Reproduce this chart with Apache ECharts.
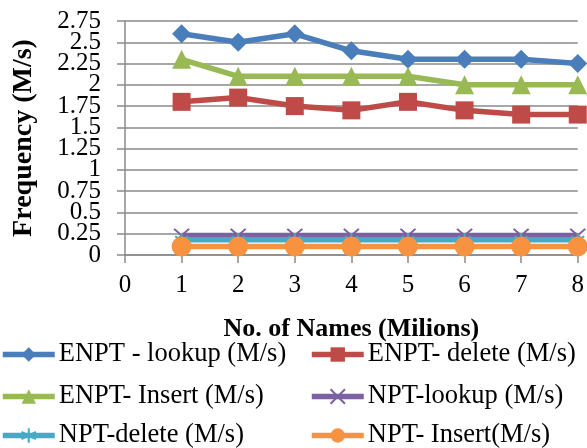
<!DOCTYPE html>
<html>
<head>
<meta charset="utf-8">
<script src="https://cdn.jsdelivr.net/npm/echarts@6/dist/echarts.min.js"></script>
<style>
  html, body { margin: 0; padding: 0; background: #fff; }
  #chart { width: 587px; height: 448px; }
</style>
</head>
<body>
<div id="chart"></div>
<script>
// Number of names (millions) on the horizontal axis
const names = [1, 2, 3, 4, 5, 6, 7, 8];

// Throughput series (M/s)
const enptLookup = [2.6, 2.5, 2.6, 2.4, 2.3, 2.3, 2.3, 2.25];
const enptDelete = [1.8, 1.85, 1.75, 1.7, 1.8, 1.7, 1.65, 1.65];
const enptInsert = [2.3, 2.1, 2.1, 2.1, 2.1, 2.0, 2.0, 2.0];
const nptLookup = [0.23, 0.23, 0.23, 0.23, 0.23, 0.23, 0.23, 0.23];
const nptDelete = [0.18, 0.18, 0.18, 0.18, 0.18, 0.18, 0.18, 0.18];
const nptInsert = [0.1, 0.1, 0.1, 0.1, 0.1, 0.1, 0.1, 0.1];

const seriesNames = [
  'ENPT - lookup (M/s)', 'ENPT- delete (M/s)', 'ENPT- Insert (M/s)',
  'NPT-lookup (M/s)', 'NPT-delete (M/s)', 'NPT- Insert(M/s)'
];
const seriesValues = [enptLookup, enptDelete, enptInsert, nptLookup, nptDelete, nptInsert];
const seriesColors = ['#4A7EBB', '#BE4B48', '#98B954', '#7D60A0', '#46AAC5', '#F69240'];

// Frequency axis range and step
const yMin = 0;
const yMax = 2.75;
const yStep = 0.25;

const crossPath = 'path://M0,0L10,10M10,0L0,10';
const starPath = 'path://M5,0L5,10M0,2.5L10,7.5M0,7.5L10,2.5';
const symbols = ['diamond', 'rect', 'triangle', crossPath, starPath, 'circle'];
const symbolSizes = [19, 18, 19, [15, 13], [13, 13], 20];

const FONT = '"Liberation Serif", "Times New Roman", serif';
const GRID = '#8A8A8A';
const fmt = v => String(+v.toFixed(2));

const series = seriesNames.map((name, i) => {
  const stroked = i === 3 || i === 4;
  return {
    name: name,
    type: 'line',
    yAxisIndex: 0,
    data: names.map((x, j) => [x, seriesValues[i][j]]),
    symbol: symbols[i],
    symbolSize: symbolSizes[i],
    showAllSymbol: true,
    clip: false,
    lineStyle: { width: 5.5, color: seriesColors[i] },
    itemStyle: stroked
      ? { color: seriesColors[i], borderColor: seriesColors[i], borderWidth: 2 }
      : { color: seriesColors[i], borderWidth: 0 },
    emphasis: { disabled: true },
    z: 2 + i
  };
});

// Two-column legend, one component per entry
const legendCols = [0, 309];
const legendRows = [341, 383, 422];
const legends = seriesNames.map((name, i) => {
  const stroked = i === 3 || i === 4;
  return {
    data: [name],
    left: legendCols[i % 2],
    top: legendRows[Math.floor(i / 2)],
    itemWidth: 52,
    itemHeight: 18,
    padding: 0,
    selectedMode: false,
    lineStyle: { width: 5.5, color: seriesColors[i] },
    itemStyle: stroked
      ? { color: seriesColors[i], borderColor: seriesColors[i], borderWidth: 2 }
      : { color: seriesColors[i], borderWidth: 0 },
    textStyle: { fontFamily: FONT, fontSize: 26.5, color: '#000', padding: [0, 0, 0, -1] }
  };
});

const yLabelStyle = { margin: 24, fontFamily: FONT, fontSize: 25, color: '#000', hideOverlap: false };

const chart = echarts.init(document.getElementById('chart'), null, { renderer: 'canvas' });
chart.setOption({
  animation: false,
  backgroundColor: '#fff',
  grid: { left: 125, right: 8, top: 21, bottom: 193, containLabel: false },
  legend: legends,
  xAxis: {
    type: 'value',
    min: 0, max: 8, interval: 1,
    name: 'No. of Names (Milions)',
    nameLocation: 'middle',
    nameGap: 61,
    nameTextStyle: { fontFamily: FONT, fontSize: 26, fontWeight: 'bold', color: '#000' },
    axisLine: { show: true, lineStyle: { color: GRID, width: 1.5 } },
    axisTick: { show: true, length: 8, lineStyle: { color: GRID, width: 1.5 } },
    axisLabel: { margin: 18, fontFamily: FONT, fontSize: 25, color: '#000' },
    splitLine: { show: false }
  },
  yAxis: [
    {
      // main frequency axis: grid lines, ticks and the inner tick labels
      type: 'value',
      position: 'left',
      offset: 0,
      min: yMin, max: yMax, interval: yStep,
      name: 'Frequency (M/s)',
      nameLocation: 'middle',
      nameGap: 87,
      nameRotate: 90,
      nameTextStyle: { fontFamily: FONT, fontSize: 28, fontWeight: 'bold', color: '#000' },
      axisLine: { show: true, lineStyle: { color: GRID, width: 1.5 } },
      axisTick: { show: true, length: 8, lineStyle: { color: GRID, width: 1.5 } },
      axisLabel: Object.assign({}, yLabelStyle, {
        formatter: v => (Math.abs(v - yMin) < 1e-9 || Math.abs(v - yMax) < 1e-9) ? '' : fmt(v)
      }),
      splitLine: { show: true, lineStyle: { color: GRID, width: 1.5 } }
    },
    {
      // end labels of the same axis (bottom and top values)
      type: 'value',
      position: 'left',
      offset: 0,
      min: yMin, max: yMax, interval: yMax - yMin,
      axisLine: { show: false },
      axisTick: { show: false },
      splitLine: { show: false },
      axisLabel: Object.assign({}, yLabelStyle, { formatter: fmt })
    }
  ],
  series: series
});
</script>
</body>
</html>
